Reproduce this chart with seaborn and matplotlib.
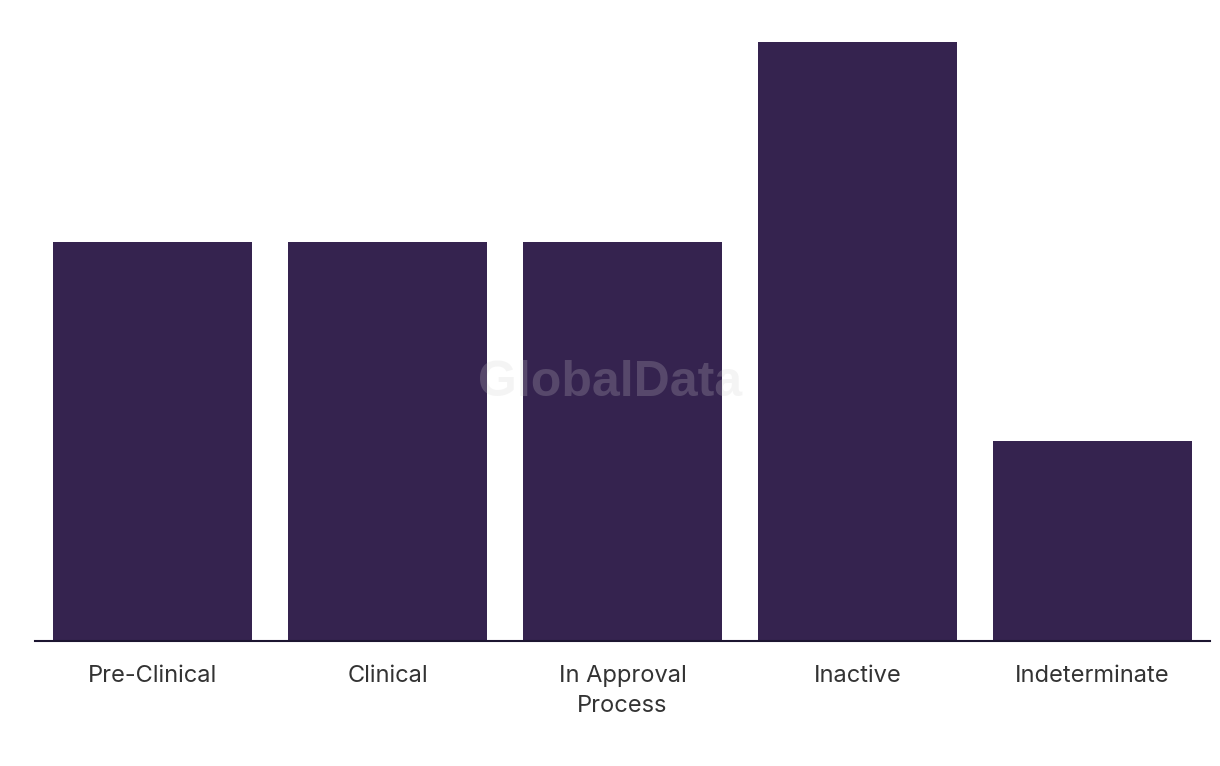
import matplotlib
matplotlib.use("Agg")
import matplotlib.pyplot as plt
import pandas as pd
import seaborn as sns

# ── Data ──────────────────────────────────────────────────────────────────────
stages = ["Pre-Clinical", "Clinical", "In Approval\nProcess", "Inactive", "Indeterminate"]
counts = [2, 2, 2, 3, 1]

BAR_COLOR = "#35234F"

sns.set_theme(style="white")
plt.rcParams["font.family"] = ["Inter", "DejaVu Sans"]

df = pd.DataFrame({"stage": stages, "count": counts})

fig = plt.figure(figsize=(12.2, 7.66), dpi=100)
ax = fig.add_axes([35 / 1220, 1 - 641 / 766, 1175 / 1220, 599 / 766])

sns.barplot(data=df, x="stage", y="count", color=BAR_COLOR, saturation=1,
            width=0.85, linewidth=0, ax=ax)

ax.set_xlim(-0.5, len(stages) - 0.5)
ax.set_ylim(0, max(counts))
ax.set_xlabel("")
ax.set_ylabel("")
ax.set_yticks([])
for side in ["top", "right", "left"]:
    ax.spines[side].set_visible(False)
ax.spines["bottom"].set_color("#1c1530")
ax.spines["bottom"].set_linewidth(1.5)
ax.tick_params(axis="x", length=0, pad=17, labelsize=17, labelcolor="#333333")
for lbl in ax.get_xticklabels():
    lbl.set_linespacing(1.5)

# watermark
fig.text(0.5, 0.5, "GlobalData", ha="center", va="center", fontsize=36,
         fontweight="bold", color="#d0d0d0", alpha=0.22,
         family=["Liberation Sans", "DejaVu Sans"])

fig.savefig("out.png", dpi=100)
plt.close(fig)
